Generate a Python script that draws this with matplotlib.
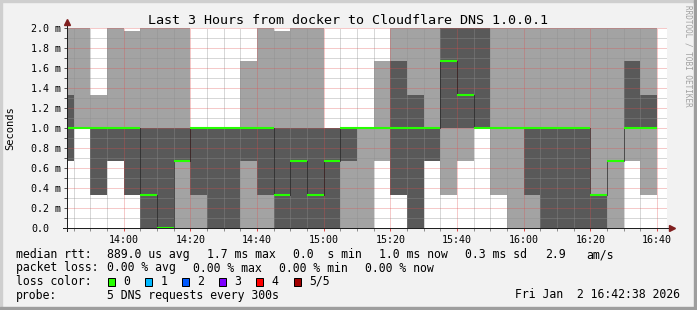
import matplotlib
matplotlib.use('Agg')
import matplotlib.pyplot as plt
from matplotlib.patches import Rectangle
import numpy as np

W, H = 697, 310

# step start times in minutes after 13:00 (5 min steps, 13:40 .. 16:35)
bin_starts = list(range(40, 220, 5))

# five sorted rtts per step, ms (2.5 = off the top of the scale)
ping1 = [0.67, 1.0, 0.33, 0.67, 0.33, 0, 0, 0, 0, 0, 0, 0, 0, 0, 0, 0, 0, 0,
         0, 0.67, 0.33, 0, 0.67, 0.33, 0.67, 1.0, 0.33, 0, 0, 0, 0, 0, 0, 0, 0.67, 0.33]
ping2 = [0.67, 1.0, 0.33, 0.67, 0.33, 0, 0, 0.67, 0.33, 0, 0, 0.67, 0.33, 0, 0, 0, 0, 0.67,
         1.0, 1.0, 0.33, 0, 0.67, 1.0, 1.0, 1.0, 1.0, 1.0, 0.33, 0, 0, 0, 0, 0.67, 1.0, 1.0]
ping3 = [1.0, 1.0, 1.0, 1.0, 1.0, 0.33, 0.0, 0.67, 1.0, 1.0, 1.0, 1.0, 1.0, 0.33, 0.67, 0.33, 0.67, 1.0,
         1.0, 1.0, 1.0, 1.0, 1.0, 1.67, 1.33, 1.0, 1.0, 1.0, 1.0, 1.0, 1.0, 1.0, 0.33, 0.67, 1.0, 1.0]
ping4 = [1.33, 1.0, 1.0, 1.0, 1.0, 1.0, 1.0, 1.0, 1.0, 1.0, 1.0, 1.0, 1.0, 1.0, 1.0, 1.0, 1.0, 1.0,
         1.0, 1.0, 1.67, 1.33, 1.0, 2.5, 2.5, 2.5, 1.0, 1.0, 1.0, 1.0, 1.0, 1.0, 0.33, 0.67, 1.67, 1.33]
ping5 = [2.5, 2.5, 1.33, 2.5, 1.97, 2.5, 2.5, 2.5, 1.0, 1.0, 1.0, 1.67, 2.5, 1.97, 2.5, 2.5, 1.0, 1.0,
         1.0, 1.67, 2.5, 2.5, 2.5, 2.5, 2.5, 2.5, 2.5, 2.5, 2.5, 2.5, 2.5, 2.5, 2.5, 2.5, 2.5, 2.5]

x_ticks = [60, 80, 100, 120, 140, 160, 180, 200, 220]
x_labels = ['14:00', '14:20', '14:40', '15:00', '15:20', '15:40', '16:00', '16:20', '16:40']
y_ticks = [0.0, 0.2, 0.4, 0.6, 0.8, 1.0, 1.2, 1.4, 1.6, 1.8, 2.0]
y_labels = ['0.0', '0.2 m', '0.4 m', '0.6 m', '0.8 m', '1.0 m',
            '1.2 m', '1.4 m', '1.6 m', '1.8 m', '2.0 m']

loss_names = ['0', '1', '2', '3', '4', '5/5']
loss_colors = ['#26ff00', '#00b8ff', '#0059ff', '#7e00ff', '#ff0000', '#a10000']

light = '#a3a3a3'
dark = '#595959'
grid_rgb = (0.56, 0.56, 0.56)
mgrid_rgb = (0.87, 0.31, 0.31)
arrow_c = (0.5, 0.12, 0.12)
axis_c = (0.12, 0.12, 0.12)
mono = 'DejaVu Sans Mono'


def fx(x):
    return x / W


def fy(y):
    return 1 - y / H


fig = plt.figure(figsize=(W / 100, H / 100), dpi=100, facecolor=(0.95, 0.95, 0.95))

# 3d frame
fig.patches.append(Rectangle((0, fy(2)), 1, 2 / H, transform=fig.transFigure, color=(0.81, 0.81, 0.81)))
fig.patches.append(Rectangle((0, 0), 2 / W, 1, transform=fig.transFigure, color=(0.81, 0.81, 0.81)))
fig.patches.append(Rectangle((0, 0), 1, 3 / H, transform=fig.transFigure, color=(0.62, 0.62, 0.62)))
fig.patches.append(Rectangle((1 - 3 / W, 0), 3 / W, 1, transform=fig.transFigure, color=(0.62, 0.62, 0.62)))

ax = fig.add_axes([fx(67), fy(228), 600 / W, 200 / H])
ax.set_facecolor('white')

edges = np.array(bin_starts + [bin_starts[-1] + 5])
for lo, hi, c in [(ping1, ping2, light), (ping2, ping3, dark), (ping3, ping4, dark), (ping4, ping5, light)]:
    ax.stairs(hi, edges, baseline=lo, fill=True, color=c, lw=0, zorder=1)

# median: dotted black steps plus green loss-coloured bars
ax.stairs(ping3, edges, baseline=None, color='black', lw=0.72, linestyle=(0, (1, 1)), zorder=3)
ax.hlines(ping3, edges[:-1], edges[1:], color=loss_colors[0], lw=1.5, zorder=4, capstyle='butt')

ax.set_xlim(43.0, 223.0)
ax.set_ylim(0, 2.0)

ax.set_xticks(x_ticks)
ax.set_xticklabels(x_labels, family=mono, fontsize=7.2)
ax.set_xticks(np.arange(45, 225, 5), minor=True)
ax.set_yticks(y_ticks)
ax.set_yticklabels(y_labels, family=mono, fontsize=7.2)
ax.set_yticks(np.arange(0, 2.01, 0.1), minor=True)

ax.set_axisbelow(False)
ax.grid(which='major', color=mgrid_rgb, alpha=0.6, linewidth=0.72, linestyle=(0, (1, 1)))
ax.grid(which='minor', color=grid_rgb, alpha=0.7, linewidth=0.72, linestyle=(0, (1, 1)))

for s in ax.spines.values():
    s.set_visible(False)

ax.tick_params(axis='x', which='major', direction='out', length=2.2, width=0.72,
               color=mgrid_rgb, pad=2.5)
ax.tick_params(axis='x', which='minor', direction='out', length=2.2, width=0.72, color=grid_rgb)
ax.tick_params(axis='y', which='both', direction='out', length=2.2, width=0.72,
               color=(0.35, 0.35, 0.35), pad=23.7)
for lab in ax.get_yticklabels():
    lab.set_horizontalalignment('left')

# axis lines with arrows
ax.plot([0, 0], [-0.015, 1.02], color=axis_c, lw=0.72, transform=ax.transAxes, clip_on=False, zorder=5)
ax.plot([-0.0067, 1.008], [0, 0], color=axis_c, lw=0.72, transform=ax.transAxes, clip_on=False, zorder=5)
ax.plot(0, 1.03, marker='^', ms=4, color=arrow_c, transform=ax.transAxes, clip_on=False, zorder=6)
ax.plot(1.008, 0, marker='>', ms=4, color=arrow_c, transform=ax.transAxes, clip_on=False, zorder=6)

ax.set_ylabel('Seconds', family=mono, fontsize=7.5)
ax.yaxis.set_label_coords((15 - 67) / 600, 0.5)

fig.text(fx(347.5), fy(24), 'Last 3 Hours from docker to Cloudflare DNS 1.0.0.1',
         ha='center', va='baseline', family=mono, fontsize=9.6)
fig.text(fx(688), fy(5), 'RRDTOOL / TOBI OETIKER', rotation=270, ha='center', va='top',
         family=mono, fontsize=5.5, color='#a0a0a0')

fs = 8.3
line1 = [(16, 'median rtt:'), (107.3, '889.0 us avg'), (207.3, '1.7 ms max'), (292.7, '0.0  s min'),
         (379.3, '1.0 ms now'), (465, '0.3 ms sd'), (545, '2.9'), (586, 'am/s')]
line2 = [(16, 'packet loss:'), (107.3, '0.00 % avg'), (193.3, '0.00 % max'),
         (279.3, '0.00 % min'), (365, '0.00 % now')]
for x, s in line1:
    fig.text(fx(x), fy(258), s, va='baseline', family=mono, fontsize=fs)
for x, s in line2:
    fig.text(fx(x), fy(271.5), s, va='baseline', family=mono, fontsize=fs)

fig.text(fx(16), fy(285), 'loss color:', va='baseline', family=mono, fontsize=fs)
for i, (name, c) in enumerate(zip(loss_names, loss_colors)):
    bx = 108 + i * 37.1
    fig.patches.append(Rectangle((fx(bx), fy(286)), 7 / W, 8 / H, transform=fig.transFigure,
                                 facecolor=c, edgecolor='black', lw=0.72))
    fig.text(fx(bx + 15.3), fy(285), name, va='baseline', family=mono, fontsize=fs)

fig.text(fx(16), fy(298.5), 'probe:', va='baseline', family=mono, fontsize=fs)
fig.text(fx(107.3), fy(298.5), '5 DNS requests every 300s', va='baseline', family=mono, fontsize=fs)
fig.text(fx(680), fy(298.5), 'Fri Jan  2 16:42:38 2026', ha='right', va='baseline',
         family=mono, fontsize=fs)

fig.savefig('out.png', dpi=100, facecolor=fig.get_facecolor())
